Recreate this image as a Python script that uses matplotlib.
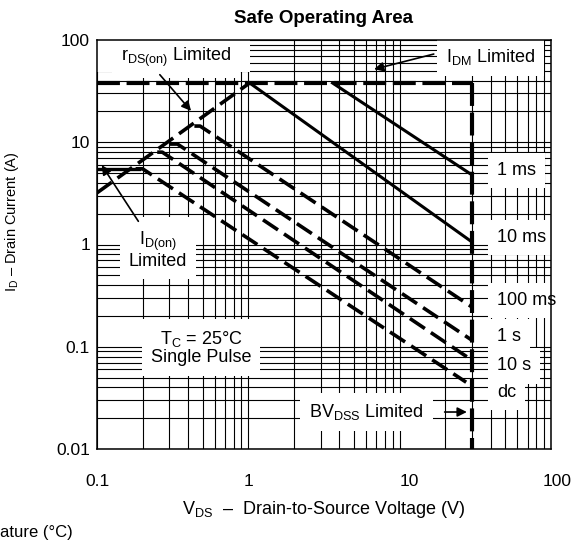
import matplotlib
matplotlib.use("Agg")
import matplotlib.pyplot as plt
from matplotlib.ticker import LogLocator, NullFormatter, FixedLocator, FixedFormatter
from matplotlib.transforms import ScaledTranslation
from matplotlib.patches import Rectangle

plt.rcParams['font.family'] = ['Liberation Sans', 'DejaVu Sans']
plt.rcParams['mathtext.fontset'] = 'custom'
plt.rcParams['mathtext.rm'] = 'Liberation Sans'
plt.rcParams['mathtext.it'] = 'Liberation Sans:italic'
plt.rcParams['mathtext.bf'] = 'Liberation Sans:bold'

# ---------------- data ----------------
x_ticks = [0.1, 1, 10, 100]
x_tick_labels = ["0.1", "1", "10", "100"]
y_ticks = [0.01, 0.1, 1, 10, 100]
y_tick_labels = ["0.01", "0.1", "1", "10", "100"]

# limits
idm_v = [0.1, 30]
idm_i = [38, 38]
bvdss_v = [30, 30]
bvdss_i = [38, 0.01]
rds_v = [0.1, 1.02]
rds_i = [3.2, 38]
idon_v = [0.1, 0.19]
idon_i = [5.5, 5.5]

# pulse curves (solid)
ms1_v = [3.6, 30]
ms1_i = [38, 4.8]
ms10_v = [1.02, 30]
ms10_i = [38, 1.06]

# pulse curves (dashed)
ms100_v = [0.44, 0.48, 30]
ms100_i = [14.4, 14.4, 0.245]
s1_v = [0.30, 0.34, 30]
s1_i = [9.6, 9.6, 0.116]
s10_v = [0.25, 0.27, 30]
s10_i = [8.0, 8.0, 0.074]
dc_v = [0.18, 0.20, 27.5]
dc_i = [5.5, 5.5, 0.045]

# ---------------- figure ----------------
fig = plt.figure(figsize=(5.74, 5.54), dpi=100)
ax = fig.add_axes([97/574, 1 - 449/554, 454/574, 409/554])
ax.set_xscale('log')
ax.set_yscale('log')
ax.set_xlim(0.1, 100)
ax.set_ylim(0.01, 100)
ax.set_axisbelow(True)

ax.xaxis.set_major_locator(FixedLocator(x_ticks))
ax.xaxis.set_major_formatter(FixedFormatter(x_tick_labels))
ax.yaxis.set_major_locator(FixedLocator(y_ticks))
ax.yaxis.set_major_formatter(FixedFormatter(y_tick_labels))
ax.xaxis.set_minor_locator(LogLocator(base=10, subs=range(2, 10), numticks=20))
ax.yaxis.set_minor_locator(LogLocator(base=10, subs=range(2, 10), numticks=20))
ax.xaxis.set_minor_formatter(NullFormatter())
ax.yaxis.set_minor_formatter(NullFormatter())
ax.tick_params(which='both', length=0)
ax.tick_params(axis='x', labelsize=12.5, pad=18)
ax.tick_params(axis='y', labelsize=12.5, pad=5)
ax.grid(which='both', color='black', lw=0.8)
for s in ax.spines.values():
    s.set_linewidth(1.1)

# white label area behind the r_DS(on) caption (covers grid only)
ax.add_patch(Rectangle((0.0, 0.922), 0.337, 0.078, transform=ax.transAxes,
                       facecolor='white', edgecolor='none', zorder=1))

# lines
ax.plot(idm_v, idm_i, color='black', lw=3.0, dashes=(5.5, 1.6), zorder=3)
ax.plot(bvdss_v, bvdss_i, color='black', lw=3.0, dashes=(5.5, 1.6), zorder=3)
ax.plot(rds_v, rds_i, color='black', lw=2.6, dashes=(5.0, 2.0), zorder=3)
ax.plot(idon_v, idon_i, color='black', lw=2.4, zorder=3)
ax.plot(ms1_v, ms1_i, color='black', lw=2.2, zorder=3)
ax.plot(ms10_v, ms10_i, color='black', lw=2.2, zorder=3)
for v, i in [(ms100_v, ms100_i), (s1_v, s1_i), (s10_v, s10_i), (dc_v, dc_i)]:
    ax.plot(v, i, color='black', lw=2.6, dashes=(5.0, 2.0), zorder=3)

# text boxes
box = dict(boxstyle='square,pad=0.5', facecolor='white', edgecolor='none')
tkw = dict(transform=ax.transAxes, fontsize=13, zorder=2, bbox=box)
ax.text(0.174, 0.958, r"r$_{\mathrm{DS(on)}}$ Limited", ha='center', va='center', **tkw)
ax.text(0.866, 0.958, r"I$_{\mathrm{DM}}$ Limited", ha='center', va='center', **tkw)
ax.text(0.134, 0.487, "I$_{\\mathrm{D(on)}}$\nLimited", ha='center', va='center',
        linespacing=1.0, **tkw)
ax.text(0.229, 0.247, "T$_{\\mathrm{C}}$ = 25$\\degree$C\nSingle Pulse", ha='center',
        va='center', linespacing=1.0, **tkw)
ax.text(0.593, 0.090, r"BV$_{\mathrm{DSS}}$ Limited", ha='center', va='center', **tkw)
for lab, yy in [("1 ms", 0.680), ("10 ms", 0.516), ("100 ms", 0.362),
                ("1 s", 0.274), ("10 s", 0.203), ("dc", 0.137)]:
    ax.text(0.881, yy, lab, ha='left', va='center', **tkw)

# arrows
akw = dict(arrowstyle='-|>', color='black', lw=1.2, mutation_scale=14)
ax.annotate("", xy=(6.5, 51), xytext=(17.5, 74), arrowprops=akw, zorder=4)
ax.annotate("", xy=(0.43, 19.3), xytext=(0.253, 48), arrowprops=akw, zorder=4)
ax.annotate("", xy=(0.105, 6.3), xytext=(0.192, 1.6), arrowprops=akw, zorder=4)
ax.annotate("", xy=(29.0, 0.023), xytext=(19.0, 0.023), arrowprops=akw, zorder=4)

ax.set_title("Safe Operating Area", fontsize=13.5, fontweight='bold', pad=12)
ax.set_xlabel(r"V$_{\mathrm{DS}}$  –  Drain-to-Source Voltage (V)", fontsize=13, labelpad=7)
fig.text(12/574, 1 - 222/554, r"I$_{\mathrm{D}}$ – Drain Current (A)", rotation=90,
         ha='center', va='center', fontsize=10.5)
fig.text(0, 1 - 532/554, "ature (°C)", ha='left', va='center', fontsize=12)

# tick-label quirks of the original drawing
xl = ax.get_xticklabels()
xl[2].set_horizontalalignment('left')
xl[3].set_transform(xl[3].get_transform() + ScaledTranslation(6/100, 0, fig.dpi_scale_trans))

fig.savefig("out.png", dpi=100)
